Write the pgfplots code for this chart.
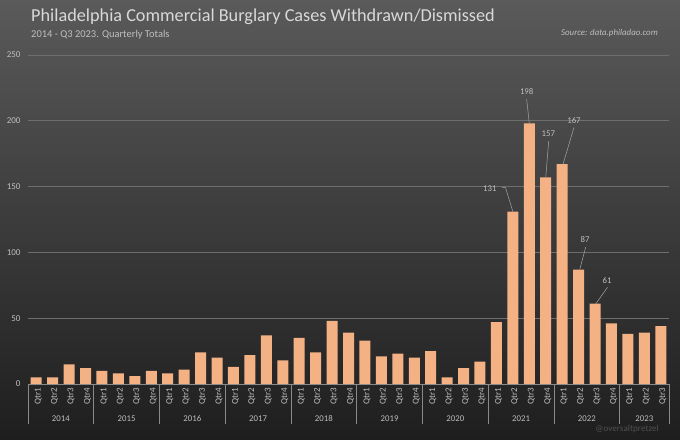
\documentclass[border=0pt]{standalone}
\usepackage{fontspec}
\setmainfont{Carlito}
\usepackage{pgfplots}
\pgfplotsset{compat=1.18}
\definecolor{bgtop}{HTML}{5A5A5A}
\definecolor{bgbot}{HTML}{1E1E1E}
\definecolor{barfill}{HTML}{F4B183}
\definecolor{txt}{HTML}{BFBFBF}
\definecolor{titlec}{HTML}{D9D9D9}
\definecolor{gridc}{HTML}{6E6E6E}
\definecolor{sepc}{HTML}{8A8A8A}
\definecolor{annc}{HTML}{A6A6A6}
\definecolor{wmark}{HTML}{4F4F4F}

\begin{document}
\begin{tikzpicture}[x=1bp,y=1bp]
\shade[top color=bgtop,bottom color=bgbot] (0,0) rectangle (680,440);
\useasboundingbox (0,0) rectangle (680,440);

% titles
\node[anchor=west,text=titlec,font=\fontsize{18.3}{21}\selectfont,inner sep=0pt] at (31,423) {Philadelphia Commercial Burglary Cases Withdrawn/Dismissed};
\node[anchor=west,text=txt,font=\fontsize{10.5}{12}\selectfont,inner sep=0pt] at (31,405.5) {2014 - Q3 2023. Quarterly Totals};
\node[anchor=east,text=txt,font=\fontsize{8.9}{10}\selectfont\itshape,inner sep=0pt] at (658,407) {Source: data.philadao.com};
\node[text=wmark,font=\fontsize{9.2}{10}\selectfont,inner sep=0pt] at (627,11) {@oversaltpretzel};

\begin{axis}[
    at={(28bp,56bp)}, anchor=south west,
    scale only axis,
    width=641bp, height=329bp,
    xmin=-0.5, xmax=38.5,
    ymin=0, ymax=250,
    ytick={0,50,...,250},
    ymajorgrids,
    grid style={gridc, line width=0.7pt},
    axis lines*=left,
    y axis line style={draw=none},
    x axis line style={sepc, line width=0.7pt},
    major tick length=0pt,
    tick style={draw=sepc, line width=0.7pt},
    /pgf/number format/assume math mode=true,
    yticklabel style={text=txt, font=\fontsize{9}{10}\selectfont, xshift=-4bp},
    xtick={0,...,38},
    xticklabels={Qtr1,Qtr2,Qtr3,Qtr4,Qtr1,Qtr2,Qtr3,Qtr4,Qtr1,Qtr2,Qtr3,Qtr4,
                 Qtr1,Qtr2,Qtr3,Qtr4,Qtr1,Qtr2,Qtr3,Qtr4,Qtr1,Qtr2,Qtr3,Qtr4,
                 Qtr1,Qtr2,Qtr3,Qtr4,Qtr1,Qtr2,Qtr3,Qtr4,Qtr1,Qtr2,Qtr3,Qtr4,
                 Qtr1,Qtr2,Qtr3},
    xticklabel style={rotate=90, anchor=east, text=txt, font=\fontsize{9}{10}\selectfont, yshift=-2bp},
    extra x ticks={-0.5,3.5,7.5,11.5,15.5,19.5,23.5,27.5,31.5,35.5,38.5},
    extra x tick labels={},
    extra x tick style={major tick length=40bp, tick align=outside, grid=none},
    clip=false,
]
\addplot[ybar, bar width=11bp, fill=barfill, draw=none] coordinates {
 (0,5) (1,5) (2,15) (3,12)
 (4,10) (5,8) (6,6) (7,10)
 (8,8) (9,11) (10,24) (11,20)
 (12,13) (13,22) (14,37) (15,18)
 (16,35) (17,24) (18,48) (19,39)
 (20,33) (21,21) (22,23) (23,20)
 (24,25) (25,5) (26,12) (27,17)
 (28,47) (29,131) (30,198) (31,157)
 (32,167) (33,87) (34,61) (35,46)
 (36,38) (37,39) (38,44)
};

% year labels
\tikzset{yr/.style={text=txt,font=\fontsize{8.8}{10}\selectfont,yshift=-35bp}}
\node[yr] at (axis cs:1.5,0) {2014};
\node[yr] at (axis cs:5.5,0) {2015};
\node[yr] at (axis cs:9.5,0) {2016};
\node[yr] at (axis cs:13.5,0) {2017};
\node[yr] at (axis cs:17.5,0) {2018};
\node[yr] at (axis cs:21.5,0) {2019};
\node[yr] at (axis cs:25.5,0) {2020};
\node[yr] at (axis cs:29.5,0) {2021};
\node[yr] at (axis cs:33.5,0) {2022};
\node[yr] at (axis cs:37,0) {2023};

% data callouts
\tikzset{lab/.style={text=txt,font=\fontsize{8.8}{10}\selectfont,inner sep=1pt}}
\draw[annc,line width=0.5pt] (axis cs:28.35,149.5) -- (axis cs:28.55,149.3) -- (axis cs:29,131);
\node[lab] at (axis cs:27.6,148.2) {131};
\draw[annc,line width=0.5pt] (axis cs:29.84,216.5) -- (axis cs:30,198);
\node[lab] at (axis cs:29.84,222.1) {198};
\draw[annc,line width=0.5pt] (axis cs:31.18,184.5) -- (axis cs:31,157);
\node[lab] at (axis cs:31.16,190) {157};
\draw[annc,line width=0.5pt] (axis cs:32.72,195) -- (axis cs:32.05,167);
\node[lab] at (axis cs:32.72,200.4) {167};
\draw[annc,line width=0.5pt] (axis cs:33.43,104) -- (axis cs:33.07,87);
\node[lab] at (axis cs:33.39,109.4) {87};
\draw[annc,line width=0.5pt] (axis cs:34.76,73.5) -- (axis cs:34.05,61);
\node[lab] at (axis cs:34.73,78.8) {61};
\end{axis}
\end{tikzpicture}
\end{document}
